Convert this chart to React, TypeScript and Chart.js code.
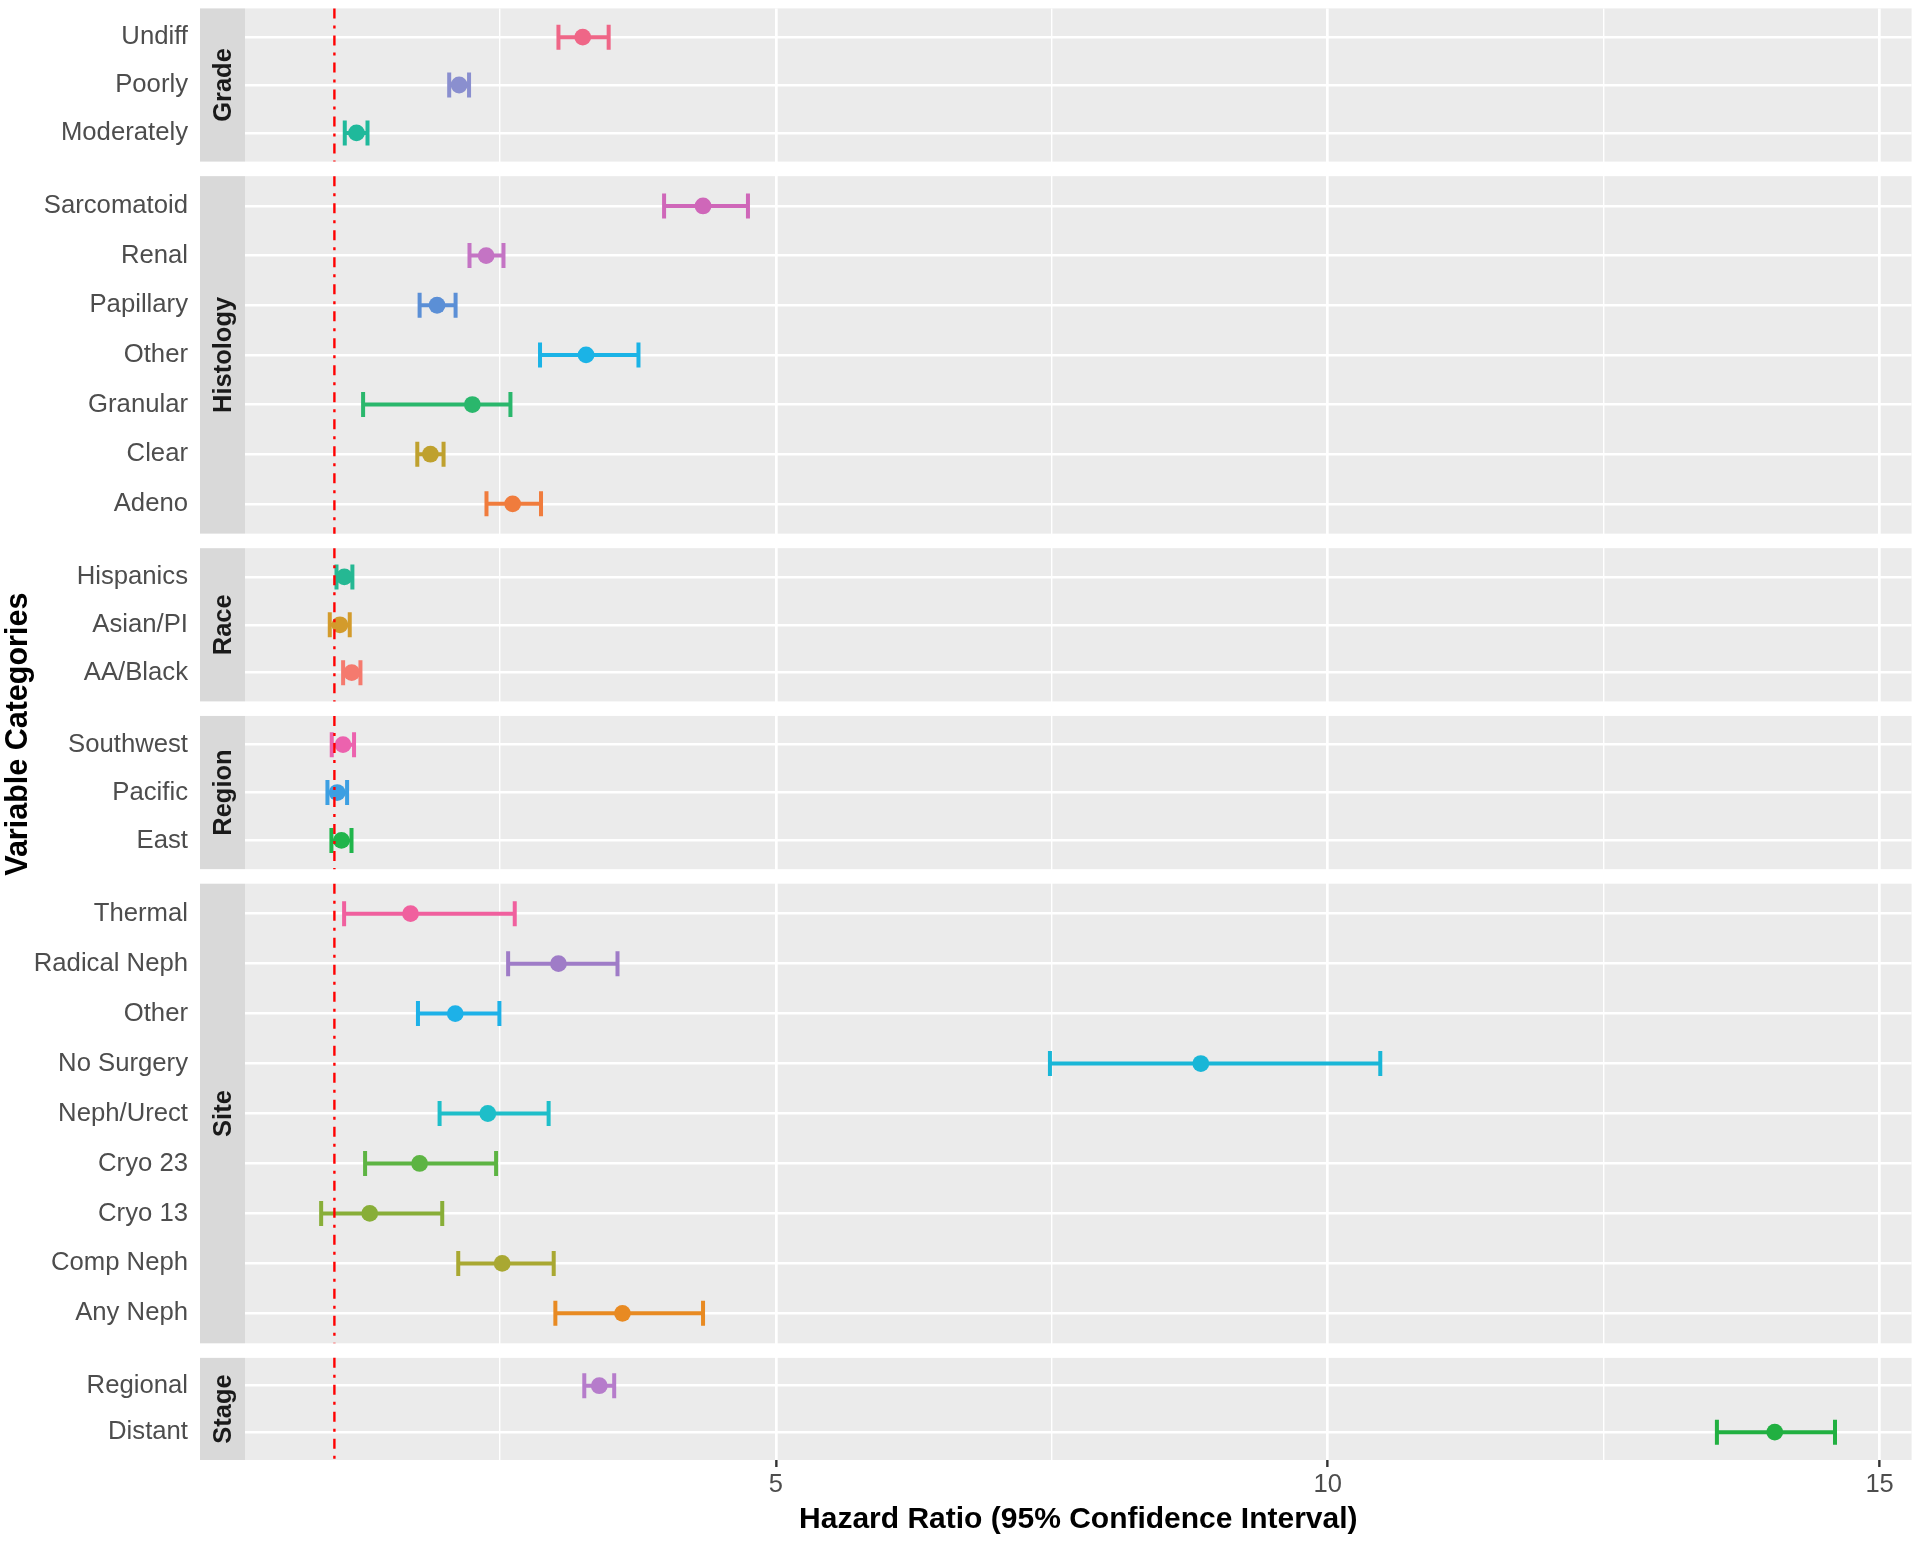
import React, { useEffect, useRef } from 'react';
import { Chart, registerables } from 'chart.js';

Chart.register(...registerables);

// ---------- data ----------
const facetNames = ['Grade', 'Histology', 'Race', 'Region', 'Site', 'Stage'];
const facetSizes = [3, 7, 3, 3, 9, 2];

const rowLabels = [
  'Undiff', 'Poorly', 'Moderately',
  'Sarcomatoid', 'Renal', 'Papillary', 'Other', 'Granular', 'Clear', 'Adeno',
  'Hispanics', 'Asian/PI', 'AA/Black',
  'Southwest', 'Pacific', 'East',
  'Thermal', 'Radical Neph', 'Other', 'No Surgery', 'Neph/Urect', 'Cryo 23', 'Cryo 13', 'Comp Neph', 'Any Neph',
  'Regional', 'Distant',
];

const hazardRatio = [
  3.25, 2.13, 1.2,
  4.34, 2.375, 1.93, 3.28, 2.25, 1.87, 2.615,
  1.09, 1.05, 1.157,
  1.078, 1.025, 1.064,
  1.69, 3.03, 2.095, 8.85, 2.39, 1.772, 1.32, 2.52, 3.61,
  3.4, 14.05,
];

const ciLower = [
  3.03, 2.04, 1.094,
  3.987, 2.224, 1.772, 2.863, 1.26, 1.751, 2.378,
  1.019, 0.958, 1.079,
  0.976, 0.937, 0.973,
  1.088, 2.574, 1.757, 7.483, 1.953, 1.278, 0.88, 2.122, 3.002,
  3.264, 13.526,
];

const ciUpper = [
  3.485, 2.22, 1.3,
  4.747, 2.532, 2.098, 3.755, 2.595, 1.989, 2.872,
  1.163, 1.139, 1.236,
  1.178, 1.115, 1.155,
  2.634, 3.565, 2.495, 10.476, 2.941, 2.465, 1.977, 2.987, 4.34,
  3.535, 14.596,
];

const rowColors = [
  '#EF6687', '#8A8FCF', '#1FB99B',
  '#CF67B9', '#C474C4', '#5B8FD6', '#1BB3E6', '#2AB76C', '#BFA12E', '#F07C3D',
  '#25B893', '#D39B2C', '#F57A6E',
  '#EC62AE', '#3C9FE2', '#20B54B',
  '#F0609E', '#9F7CC7', '#1DB1E8', '#19B6D7', '#1EBEC9', '#5DB443', '#88AE38', '#A9A832', '#E88A22',
  '#B67CCB', '#21B041',
];

const xTickValues = [2.5, 5, 7.5, 10, 12.5, 15];
const xMajorTicks = [5, 10, 15];
const referenceHR = 1;
const xMin = 0.19;
const xMax = 15.29;

// ---------- layout helpers (derived from facet structure) ----------
const GAP = 0.285; // gap between facet panels, in row units
const rowPos: number[] = [];
const facetRanges: [number, number][] = [];
{
  let start = 0;
  facetSizes.forEach((n) => {
    facetRanges.push([start, start + n]);
    for (let i = 0; i < n; i++) rowPos.push(start + (n * (0.6 + i)) / (n + 0.2));
    start += n + GAP;
  });
}
const yMax = facetRanges[facetRanges.length - 1][1];

const FONT = "'Liberation Sans', Arial, Helvetica, sans-serif";
const STRIP_LEFT = 200;
const CAP_HALF = 12.5;

const facetPlugin = {
  id: 'facetPanels',
  beforeDraw(chart: any) {
    const { ctx, chartArea, scales } = chart;
    const y = scales.y;
    ctx.save();
    ctx.fillStyle = '#FFFFFF';
    ctx.fillRect(0, 0, chart.width, chart.height);
    facetRanges.forEach(([a, b], k) => {
      const top = y.getPixelForValue(a);
      const bot = y.getPixelForValue(b);
      ctx.fillStyle = '#EBEBEB';
      ctx.fillRect(chartArea.left, top, chartArea.right - chartArea.left, bot - top);
      ctx.fillStyle = '#D9D9D9';
      ctx.fillRect(STRIP_LEFT, top, chartArea.left - STRIP_LEFT, bot - top);
      ctx.save();
      ctx.translate((STRIP_LEFT + chartArea.left) / 2 + 1, (top + bot) / 2);
      ctx.rotate(-Math.PI / 2);
      ctx.font = `bold 25.5px ${FONT}`;
      ctx.fillStyle = '#1A1A1A';
      ctx.textAlign = 'center';
      ctx.textBaseline = 'middle';
      ctx.fillText(facetNames[k], 0, 0);
      ctx.restore();
    });
    ctx.restore();
  },
  beforeDatasetsDraw(chart: any) {
    const { ctx, scales } = chart;
    const x = scales.x;
    const y = scales.y;
    ctx.save();
    rowPos.forEach((p, i) => {
      const yy = y.getPixelForValue(p);
      const x1 = x.getPixelForValue(ciLower[i]);
      const x2 = x.getPixelForValue(ciUpper[i]);
      ctx.strokeStyle = rowColors[i];
      ctx.lineWidth = 4;
      ctx.lineCap = 'butt';
      ctx.beginPath();
      ctx.moveTo(x1, yy);
      ctx.lineTo(x2, yy);
      ctx.moveTo(x1, yy - CAP_HALF);
      ctx.lineTo(x1, yy + CAP_HALF);
      ctx.moveTo(x2, yy - CAP_HALF);
      ctx.lineTo(x2, yy + CAP_HALF);
      ctx.stroke();
    });
    ctx.restore();
  },
  afterDatasetsDraw(chart: any) {
    const { ctx, scales } = chart;
    const x = scales.x;
    const y = scales.y;
    const xr = x.getPixelForValue(referenceHR);
    ctx.save();
    ctx.strokeStyle = '#FF0000';
    ctx.lineWidth = 2.4;
    ctx.setLineDash([10, 7, 3, 7]);
    facetRanges.forEach(([a, b]) => {
      ctx.beginPath();
      ctx.moveTo(xr, y.getPixelForValue(a));
      ctx.lineTo(xr, y.getPixelForValue(b));
      ctx.stroke();
    });
    ctx.restore();
  },
};

export default function App() {
  const canvasRef = useRef<HTMLCanvasElement | null>(null);

  useEffect(() => {
    if (!canvasRef.current) return;
    Chart.defaults.font.family = FONT;
    const chart = new Chart(canvasRef.current, {
      type: 'scatter',
      data: {
        datasets: [
          {
            data: rowPos.map((p, i) => ({ x: hazardRatio[i], y: p })),
            pointBackgroundColor: rowColors,
            pointBorderWidth: 0,
            pointRadius: 8.4,
            pointHoverRadius: 8.4,
            showLine: false,
          },
        ],
      },
      options: {
        responsive: false,
        animation: false,
        devicePixelRatio: 1,
        layout: { padding: { top: 5, right: 5, bottom: 0, left: 0 } },
        plugins: { legend: { display: false }, tooltip: { enabled: false } },
        scales: {
          x: {
            type: 'linear',
            min: xMin,
            max: xMax,
            afterBuildTicks: (axis: any) => {
              axis.ticks = xTickValues.map((v) => ({ value: v }));
            },
            afterFit: (axis: any) => {
              axis.height = 83;
              axis.paddingLeft = 0;
              axis.paddingRight = 0;
            },
            border: { display: false },
            grid: {
              color: '#FFFFFF',
              lineWidth: (c: any) => (xMajorTicks.includes(c.tick?.value) ? 2.7 : 1.4),
              drawTicks: true,
              tickLength: 7,
              tickWidth: 2.4,
              tickColor: (c: any) => (xMajorTicks.includes(c.tick?.value) ? '#333333' : 'rgba(0,0,0,0)'),
            },
            ticks: {
              autoSkip: false,
              maxRotation: 0,
              padding: 3,
              color: '#4D4D4D',
              font: { size: 25.5, family: FONT },
              callback: (v: any) => (xMajorTicks.includes(Number(v)) ? String(v) : ''),
            },
            title: {
              display: true,
              text: 'Hazard Ratio (95% Confidence Interval)',
              color: '#000000',
              font: { size: 30, weight: 'bold', family: FONT },
              padding: { top: 0, bottom: 5 },
            },
          },
          y: {
            type: 'linear',
            min: 0,
            max: yMax,
            reverse: true,
            afterBuildTicks: (axis: any) => {
              axis.ticks = rowPos.map((p) => ({ value: p }));
            },
            afterFit: (axis: any) => {
              axis.width = 245;
              axis.paddingTop = 0;
              axis.paddingBottom = 0;
            },
            border: { display: false },
            grid: {
              color: '#FFFFFF',
              lineWidth: 2.5,
              drawTicks: false,
            },
            ticks: {
              autoSkip: false,
              padding: 57,
              color: '#4D4D4D',
              font: { size: 25.7, family: FONT },
              callback: (_v: any, idx: number) => rowLabels[idx],
            },
            title: {
              display: true,
              text: 'Variable Categories',
              color: '#000000',
              font: { size: 30.5, weight: 'bold', family: FONT },
              padding: { top: 0, bottom: 0 },
            },
          },
        },
      },
      plugins: [facetPlugin],
    } as any);
    return () => chart.destroy();
  }, []);

  return (
    <div style={{ position: 'absolute', left: 0, top: 0, width: 1920, height: 1543, background: '#fff' }}>
      <canvas ref={canvasRef} width={1920} height={1543} style={{ display: 'block', width: 1920, height: 1543 }} />
    </div>
  );
}
